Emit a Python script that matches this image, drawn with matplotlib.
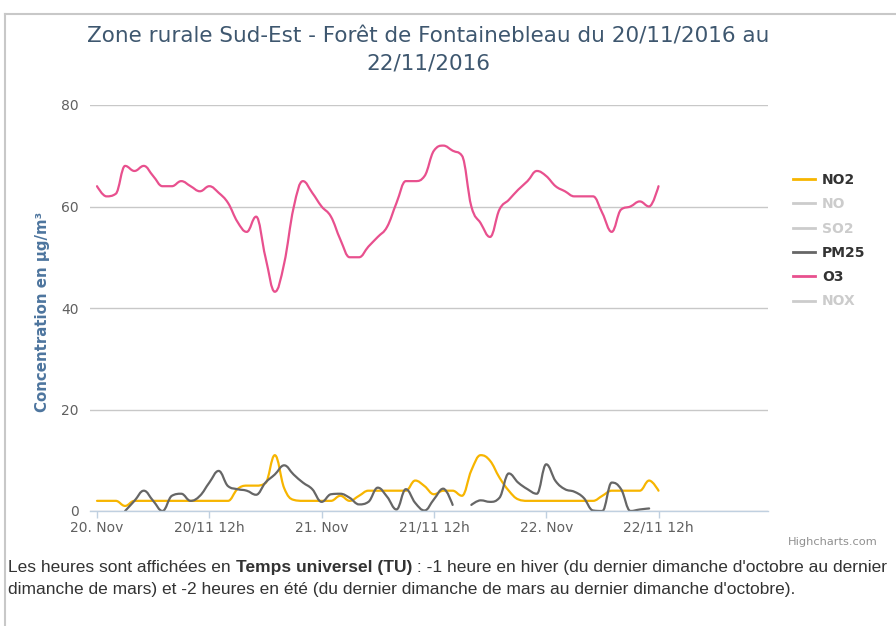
import numpy as np
import matplotlib
matplotlib.use("Agg")
import matplotlib.pyplot as plt
from matplotlib.path import Path
from matplotlib.patches import PathPatch
from matplotlib.lines import Line2D

# hourly values, 20/11/2016 00h -> 22/11/2016 12h (TU)
hours = np.arange(61)
o3 = [64, 62, 62.5, 68, 67, 68, 66, 64, 64, 65, 64, 63, 64, 62.7, 60.7, 57, 55, 58, 50, 43.2,
      48.8, 59.7, 65, 62.7, 60, 58, 53.5, 50, 50, 52.1, 54, 56, 60.7, 65, 65, 66, 71, 72, 71, 70,
      60, 56.7, 54, 59.4, 61.3, 63.3, 65, 67, 66, 64, 63, 62, 62, 62, 58.7, 55, 59.4, 60, 61, 60, 64]
no2 = [2, 2, 2, 1, 2, 2, 2, 2, 2, 2, 2, 2, 2, 2, 2, 4.3, 5, 5, 5.5, 11, 4.5, 2.2, 2, 2, 2, 2, 3,
       2, 3, 4, 4, 4, 4, 4, 6, 4.9, 3.3, 4, 4, 3, 8, 11, 9.9, 6.6, 4, 2.3, 2, 2, 2, 2, 2, 2, 2, 2,
       3, 4, 4, 4, 4, 6, 4]
pm25 = [None, None, None, 0, 2, 4, 2, 0, 3, 3.4, 2, 3, 5.6, 7.9, 4.9, 4.3, 4, 3.2, 5.6, 7.2, 9,
        7.2, 5.6, 4.3, 1.8, 3.3, 3.4, 2.6, 1.3, 1.8, 4.6, 2.8, 0.3, 4.3, 1.6, 0.1, 2.3, 4.4, 1.2,
        None, 1.2, 2.1, 1.8, 2.6, 7.4, 5.6, 4.3, 3.4, 9.2, 5.9, 4.3, 3.8, 2.6, 0.1, 0, 5.6, 4.3,
        0, 0.3, 0.5, None]

tick_pos = [0, 12, 24, 36, 48, 60]
tick_lab = ["20. Nov", "20/11 12h", "21. Nov", "21/11 12h", "22. Nov", "22/11 12h"]

legend_names = ["NO2", "NO", "SO2", "PM25", "O3", "NOX"]
legend_cols = ["#f7b500", "#cccccc", "#cccccc", "#666666", "#e8508e", "#cccccc"]
legend_visible = [True, False, False, True, True, False]


def spline(x, y, smoothing=1.5):
    # highcharts-like spline: cubic bezier through the points, gaps on None
    verts, codes = [], []
    seg = []
    for xi, yi in zip(x, y):
        if yi is None:
            add_segment(seg, verts, codes, smoothing)
            seg = []
        else:
            seg.append((float(xi), float(yi)))
    add_segment(seg, verts, codes, smoothing)
    return Path(verts, codes)


def add_segment(seg, verts, codes, sm):
    n = len(seg)
    if n == 0:
        return
    d = sm + 1
    lc, rc = [], []
    for i, (px, py) in enumerate(seg):
        if 0 < i < n - 1:
            lx, ly = seg[i - 1]
            nx, ny = seg[i + 1]
            lcx, lcy = (sm * px + lx) / d, (sm * py + ly) / d
            rcx, rcy = (sm * px + nx) / d, (sm * py + ny) / d
            corr = (rcy - lcy) * (rcx - px) / (rcx - lcx) + py - rcy
            lcy += corr
            rcy += corr
            if lcy > ly and lcy > py:
                lcy = max(ly, py)
                rcy = 2 * py - lcy
            elif lcy < ly and lcy < py:
                lcy = min(ly, py)
                rcy = 2 * py - lcy
            if rcy > ny and rcy > py:
                rcy = max(ny, py)
                lcy = 2 * py - rcy
            elif rcy < ny and rcy < py:
                rcy = min(ny, py)
                lcy = 2 * py - rcy
            lc.append((lcx, lcy))
            rc.append((rcx, rcy))
        else:
            lc.append((px, py))
            rc.append((px, py))
    verts.append(seg[0])
    codes.append(Path.MOVETO)
    for i in range(1, n):
        verts += [rc[i - 1], lc[i], seg[i]]
        codes += [Path.CURVE4] * 3


fig = plt.figure(figsize=(8.96, 6.26), dpi=100)
ax = fig.add_axes([90 / 896, 115 / 626, 678 / 896, 406 / 626])
ax.set_xlim(-0.75, 71.7)
ax.set_ylim(0, 80)

for ser, col in [(no2, "#f7b500"), (pm25, "#666666"), (o3, "#e8508e")]:
    ax.add_patch(PathPatch(spline(hours, ser), fill=False, edgecolor=col, lw=1.6,
                           capstyle="round", joinstyle="round"))

ax.set_yticks([0, 20, 40, 60, 80])
ax.grid(axis="y", color="#c8c8c8", lw=1)
ax.set_axisbelow(True)
for s in ["top", "right", "left"]:
    ax.spines[s].set_visible(False)
ax.spines["bottom"].set_color("#c0d0e0")
ax.spines["bottom"].set_linewidth(1)
ax.set_xticks(tick_pos)
ax.set_xticklabels(tick_lab)
ax.tick_params(axis="x", colors="#c0d0e0", length=5, width=1, labelcolor="#606060",
               labelsize=10, pad=2)
ax.tick_params(axis="y", length=0, labelcolor="#606060", labelsize=10, pad=8)
ax.set_ylabel("Concentration en µg/m³", color="#4d759e", fontsize=10.8, fontweight="bold")
ax.yaxis.set_label_coords(-40 / 678, 0.49)

fig.suptitle("Zone rurale Sud-Est - Forêt de Fontainebleau du 20/11/2016 au\n22/11/2016",
             x=428 / 896, y=1 - 27 / 626, fontsize=15.5, color="#3e576f", va="top",
             linespacing=1.38)

handles = [Line2D([], [], color=c, lw=2) for c in legend_cols]
leg = fig.legend(handles, legend_names, loc="upper left", bbox_to_anchor=(793 / 896, 1 - 173 / 626),
                 frameon=False, fontsize=10, handlelength=1.6, handletextpad=0.5,
                 labelspacing=0.74, borderaxespad=0, borderpad=0)
for t, v in zip(leg.get_texts(), legend_visible):
    t.set_fontweight("bold")
    t.set_color("#333333" if v else "#cccccc")

fig.text(878 / 896, 1 - 542 / 626, "Highcharts.com", ha="right", va="center", fontsize=8.2,
         color="#909090")

# bottom note with a bold part
f = "Liberation Sans"
fs = 12.55
t1 = fig.text(8 / 896, 1 - 572 / 626, "Les heures sont affichées en ", fontsize=fs, family=f,
              color="#333333")
t2 = fig.text(0, 0, "Temps universel (TU)", fontsize=fs, family=f, fontweight="bold",
              color="#333333")
t3 = fig.text(0, 0, " : -1 heure en hiver (du dernier dimanche d'octobre au dernier",
              fontsize=fs, family=f, color="#333333")
fig.text(8 / 896, 1 - 594 / 626,
         "dimanche de mars) et -2 heures en été (du dernier dimanche de mars au dernier dimanche d'octobre).",
         fontsize=fs, family=f, color="#333333")
fig.canvas.draw()
r = fig.canvas.get_renderer()
bb = t1.get_window_extent(r)
t2.set_position((bb.x1 / fig.bbox.width, t1.get_position()[1]))
bb = t2.get_window_extent(r)
t3.set_position((bb.x1 / fig.bbox.width, t1.get_position()[1]))

# frame of the page box
fig.add_artist(Line2D([5 / 896, 1], [1 - 14 / 626] * 2, color="#c8c8c8", lw=1.5))
fig.add_artist(Line2D([5 / 896] * 2, [0, 1 - 14 / 626], color="#c8c8c8", lw=1.5))

fig.savefig("out.png", dpi=100)
